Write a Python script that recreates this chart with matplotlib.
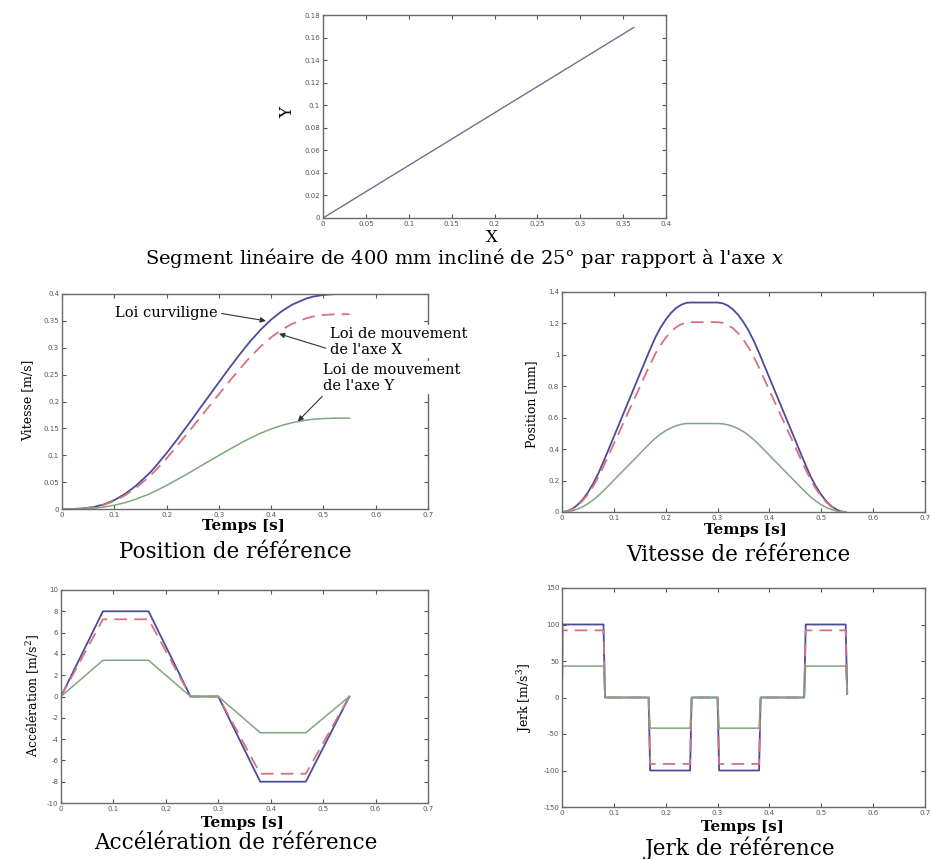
import matplotlib
matplotlib.use('Agg')
import matplotlib.pyplot as plt
from matplotlib.ticker import FormatStrFormatter
import numpy as np

W, H = 931, 859
BLUE = '#4b4b9c'
RED = '#d9707e'
GREEN = '#80a680'
SPINE = '#6a6a6a'
SERIF = 'DejaVu Serif'
plt.rcParams['mathtext.fontset'] = 'dejavuserif'

# ---- data ----
# trajectory in the plane (m)
path_x = [0.0, 0.3625]
path_y = [0.0, 0.169]

# position profiles
t_p = [0, .02, .04, .06, .08, .10, .12, .14, .167, .18, .20, .22, .247, .26,
       .28, .30, .32, .34, .36, .38, .40, .42, .44, .467, .48, .50, .52, .55]
pos_c = [0, .0001, .0011, .0036, .0085, .0165, .0277, .0421, .0663, .0805, .1039,
         .1292, .1645, .1822, .2089, .2356, .2621, .2878, .312, .3337, .3524,
         .3678, .3801, .3915, .3951, .3983, .3997, .4]
pos_x = [0, .0001, .001, .0033, .0077, .015, .0251, .0382, .0601, .073, .0942,
         .1171, .1491, .1651, .1893, .2135, .2375, .2608, .2828, .3024, .3194,
         .3333, .3445, .3548, .3581, .361, .3622, .3625]
pos_y = [0, .0001, .0005, .0015, .0036, .007, .0117, .0178, .028, .034, .0439,
         .0546, .0695, .077, .0883, .0996, .1108, .1216, .1319, .141, .1489,
         .1554, .1606, .1654, .167, .1683, .1689, .169]

# velocity profiles
t_v = [0, .01, .02, .03, .04, .05, .06, .07, .08, .167, .18, .19, .20, .21, .22,
       .23, .24, .247, .30, .31, .32, .33, .34, .35, .36, .37, .38, .467, .48,
       .49, .50, .51, .52, .53, .54, .547]
vel_c = [0, .005, .02, .045, .08, .125, .18, .245, .32, 1.013, 1.111, 1.173,
         1.224, 1.266, 1.298, 1.319, 1.331, 1.333, 1.333, 1.328, 1.313, 1.288,
         1.253, 1.208, 1.153, 1.088, 1.013, .32, .222, .161, .109, .067, .036,
         .014, .002, 0]
vel_x = [0, .0045, .018, .041, .073, .113, .163, .222, .290, .918, 1.007, 1.063,
         1.109, 1.147, 1.176, 1.195, 1.206, 1.208, 1.208, 1.204, 1.190, 1.168,
         1.136, 1.095, 1.045, .986, .918, .290, .201, .146, .099, .061, .033,
         .013, .002, 0]
vel_y = [0, .002, .008, .019, .034, .053, .076, .104, .135, .428, .470, .496,
         .517, .535, .549, .558, .563, .563, .563, .561, .555, .544, .530, .511,
         .487, .460, .428, .135, .094, .068, .046, .028, .015, .006, .001, 0]

# piecewise profiles
t_acc = [0, .08, .167, .247, .30, .38, .467, .55]
acc_c = [0, 8, 8, 0, 0, -8, -8, 0]
acc_x = [0, 7.25, 7.25, 0, 0, -7.25, -7.25, 0]
acc_y = [0, 3.4, 3.4, 0, 0, -3.4, -3.4, 0]

t_jerk = [0, .001, .080, .083, .167, .170, .247, .250, .300, .303, .380, .383,
          .467, .470, .547, .550]
jerk_c = [0, 100, 100, 0, 0, -100, -100, 0, 0, -100, -100, 0, 0, 100, 100, 5]
jerk_x = [0, 92, 92, 0, 0, -91, -91, 0, 0, -91, -91, 0, 0, 92, 92, 5]
jerk_y = [0, 43, 43, 0, 0, -42, -42, 0, 0, -42, -42, 0, 0, 43, 43, 5]


def px_axes(fig, left, top, right, bottom):
    return fig.add_axes([left / W, 1 - bottom / H, (right - left) / W, (bottom - top) / H])


def style(ax, xt, yt, xlim, ylim, fmt='%g'):
    ax.set_xlim(*xlim)
    ax.set_ylim(*ylim)
    ax.set_xticks(xt)
    ax.set_yticks(yt)
    ax.xaxis.set_major_formatter(FormatStrFormatter(fmt))
    ax.yaxis.set_major_formatter(FormatStrFormatter(fmt))
    ax.tick_params(direction='in', top=True, right=True, length=3, width=0.8,
                   labelsize=5, colors='#555555', pad=2)
    for s in ax.spines.values():
        s.set_color(SPINE)
        s.set_linewidth(1.0)


def ftext(x, y, s, **kw):
    fig.text(x / W, 1 - y / H, s, ha='center', va='center', family=SERIF, **kw)


def three(ax, t, c, x, y):
    ax.plot(t, c, color=BLUE, lw=1.3)
    ax.plot(t, x, color=RED, lw=1.3, dashes=(7, 4))
    ax.plot(t, y, color=GREEN, lw=1.1)


fig = plt.figure(figsize=(9.31, 8.59), dpi=100)

# ---- top: path ----
ax0 = px_axes(fig, 323, 15, 666, 218)
ax0.plot(path_x, path_y, color='#707090', lw=1)
style(ax0, np.arange(0, 0.41, 0.05), np.arange(0, 0.181, 0.02), (0, 0.4), (0, 0.18))
ftext(288, 113, 'Y', fontsize=12, rotation=90)
ftext(492, 237, 'X', fontsize=12)
ftext(464, 258, "Segment linéaire de 400 mm incliné de 25° par rapport à l'axe $x$",
      fontsize=14)

t_ticks = np.arange(0, 0.71, 0.1)

# ---- position ----
ax1 = px_axes(fig, 62, 294, 428, 509)
three(ax1, t_p, pos_c, pos_x, pos_y)
style(ax1, t_ticks, np.arange(0, 0.41, 0.05), (0, 0.7), (0, 0.4))
ann = dict(family=SERIF, fontsize=10.5, annotation_clip=False, va='center', ha='left',
           bbox=dict(fc='white', ec='none', pad=1))
arr = dict(arrowstyle='-|>', lw=0.8, color='#333333', mutation_scale=8,
           shrinkA=2, shrinkB=0)
ax1.annotate('Loi curviligne', xy=(0.39, 0.35), xytext=(0.101, 0.365),
             arrowprops=dict(arr, relpos=(1, 0.5)), **ann)
ax1.annotate("Loi de mouvement\nde l'axe X", xy=(0.415, 0.326), xytext=(0.512, 0.311),
             arrowprops=dict(arr, relpos=(0, 0.25)), **ann)
ax1.annotate("Loi de mouvement\nde l'axe Y", xy=(0.451, 0.163), xytext=(0.499, 0.244),
             arrowprops=dict(arr, relpos=(0.03, 0.05)), **ann)
ftext(28, 400, 'Vitesse [m/s]', fontsize=9, rotation=90)
ftext(243, 526, 'Temps [s]', fontsize=11, fontweight='bold')
ftext(235, 552, 'Position de référence', fontsize=15.5)

# ---- velocity ----
ax2 = px_axes(fig, 562, 292, 925, 512)
three(ax2, t_v, vel_c, vel_x, vel_y)
style(ax2, t_ticks, np.arange(0, 1.41, 0.2), (0, 0.7), (0, 1.4))
ftext(532, 404, 'Position [mm]', fontsize=9, rotation=90)
ftext(745, 530, 'Temps [s]', fontsize=11, fontweight='bold')
ftext(738, 555, 'Vitesse de référence', fontsize=15.5)

# ---- acceleration ----
ax3 = px_axes(fig, 61, 590, 428, 803)
three(ax3, t_acc, acc_c, acc_x, acc_y)
style(ax3, t_ticks, np.arange(-10, 11, 2), (0, 0.7), (-10, 10))
ftext(33, 695, 'Accélération [m/s$^2$]', fontsize=9, rotation=90)
ftext(242, 823, 'Temps [s]', fontsize=11, fontweight='bold')
ftext(236, 843, 'Accélération de référence', fontsize=15.5)

# ---- jerk ----
ax4 = px_axes(fig, 562, 588, 925, 807)
three(ax4, t_jerk, jerk_c, jerk_x, jerk_y)
style(ax4, t_ticks, np.arange(-150, 151, 50), (0, 0.7), (-150, 150))
ftext(525, 698, 'Jerk [m/s$^3$]', fontsize=9, rotation=90)
ftext(742, 827, 'Temps [s]', fontsize=11, fontweight='bold')
ftext(740, 848, 'Jerk de référence', fontsize=15.5)

fig.savefig('out.png', dpi=100, facecolor='white')
